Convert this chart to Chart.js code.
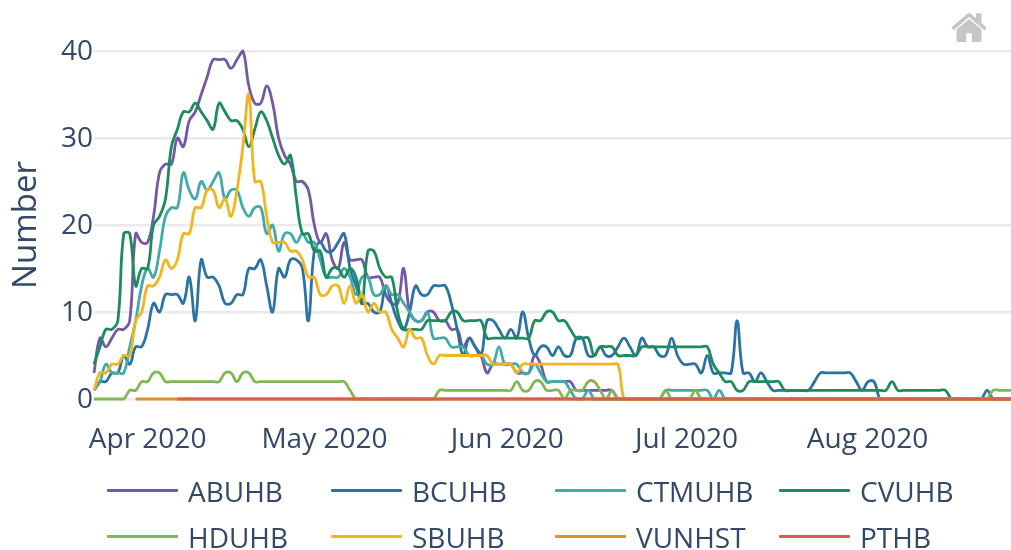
<!DOCTYPE html>
<html>
<head>
<meta charset="utf-8">
<script src="https://cdn.jsdelivr.net/npm/chart.js@4"></script>
<style>
html,body{margin:0;padding:0;background:#fff;width:1011px;height:550px;overflow:hidden}
#wrap{position:relative;width:1011px;height:550px;font-family:"Open Sans",sans-serif}
canvas{position:absolute;left:0;top:0}
.leg{position:absolute;height:34px;display:block;color:#34486a;font-size:28px;line-height:34px;white-space:nowrap}
.leg i{position:absolute;left:0;top:15px;width:71px;height:3px;border-radius:1px}
.leg span{position:absolute;left:81px;top:0}
#home{position:absolute;left:951px;top:12px;width:36px;height:30px}
</style>
</head>
<body>
<div id="wrap">
<canvas id="c" width="1011" height="550"></canvas>
<svg id="home" viewBox="0 115 928.6 745" preserveAspectRatio="none"><path fill="#c6c6c6" transform="matrix(1 0 0 -1 0 850)" d="m786 296v-267q0-15-11-26t-25-10h-214v214h-143v-214h-214q-15 0-25 10t-11 26v267q0 1 0 2t0 2l321 264 321-264q1-1 1-4z m124 39l-34-41q-5-5-12-6h-2q-7 0-12 3l-386 322-386-322q-7-4-13-4-7 2-12 7l-35 41q-4 5-3 13t6 12l401 334q18 15 42 15t43-15l136-114v109q0 8 5 13t13 5h107q8 0 13-5t5-13v-227l122-102q5-5 6-12t-4-13z"/></svg>
</div>
<script>
const seriesNames = ["ABUHB","BCUHB","CTMUHB","CVUHB","HDUHB","SBUHB","VUNHST","PTHB"];
const seriesColors = ["#7358a6","#2b73a3","#42aaa8","#1c8c5e","#7fb850","#f3b51f","#e28f2f","#d2624c"];
const firstDay = "2020-03-23";
const xTickLabels = ["Apr 2020","May 2020","Jun 2020","Jul 2020","Aug 2020"];
const xTickDays = [9.0,38.7,69.4,99.5,129.9];
const yTicks = [0,10,20,30,40];

const ABUHB = [3,7,6,7,8,8,9,19,18,18,21,26,27,27,30,29,32,33,35,37,39,39,39,38,39,40,36,34,34,36,34,30,28,27,25,25,24,20,18,19,16,15,18,16,16,16,14,14,14,12,11,11,15,10,9,9,10,10,9,9,8,8,6,7,6,5,3,4,4,4,4,3,3,3,5,4,2,2,2,2,2,1,1,1,1,1,1,1,0,0,0,0,0,0,0,0,0,0,0,0,0,0,0,0,0,0,0,0,0,0,0,0,0,0,0,0,0,0,0,0,0,0,0,0,0,0,0,0,0,0,0,0,0,0,0,0,0,0,0,0,0,0,0,0,0,0,0,0,0,0,0,0,0,0,0];
const BCUHB = [1,2,2,3,3,5,4,6,6,8,11,10,12,12,12,11,14,9,16,14,14,13,11,11,12,12,15,15,16,13,10,15,14,16,16,15,9,17,18,17,17,18,19,15,13,11,11,10,10,13,11,9,8,10,13,12,12,13,13,13,11,8,5,7,6,5,9,9,8,7,8,7,10,7,5,6,6,5,6,5,5,7,7,5,5,6,5,5,6,7,6,5,7,6,6,5,5,7,5,4,4,4,3,5,3,3,3,3,9,3,3,2,3,2,1,1,1,1,1,1,1,2,3,3,3,3,3,3,2,1,2,2,0,0,0,0,0,0,0,0,0,0,0,0,0,0,0,0,0,0,1,0,0,0,0];
const CTMUHB = [1,2,4,3,3,3,6,9,13,15,14,17,21,22,22,26,24,23,25,24,25,26,23,24,24,22,21,22,22,19,20,17,19,19,18,19,18,18,16,14,14,14,15,14,12,14,14,12,12,13,12,12,11,10,9,9,10,7,7,7,6,6,6,5,5,5,4,4,6,4,4,4,3,3,4,3,2,2,2,2,1,0,0,1,0,0,0,0,0,0,0,0,0,0,0,0,1,1,1,1,1,1,1,1,0,1,0,0,0,0,0,0,0,0,0,0,0,0,0,0,0,0,0,0,0,0,0,0,0,0,0,0,0,0,0,0,0,0,0,0,0,0,0,0,0,0,0,0,0,0,0,0,0,0,0];
const CVUHB = [4,6,8,8,9,19,19,13,15,15,20,21,23,29,31,33,33,34,33,32,31,34,33,32,32,31,29,31,33,32,30,28,27,28,23,19,19,17,17,14,15,15,14,15,14,11,17,17,15,14,14,10,8,8,8,8,9,9,9,9,10,10,9,9,9,9,7,7,7,7,7,7,7,7,9,9,10,10,9,9,8,7,7,7,5,6,6,6,5,5,5,5,6,6,6,6,6,6,6,6,6,6,6,6,4,3,2,2,1,1,2,2,2,2,2,2,1,1,1,1,1,1,1,1,1,1,1,1,1,1,1,1,1,1,2,1,1,1,1,1,1,1,1,1,0,0,0,0,0,0,0,0,0,0,0];
const HDUHB = [0,0,0,0,0,0,1,1,2,2,3,3,2,2,2,2,2,2,2,2,2,2,3,3,2,3,3,2,2,2,2,2,2,2,2,2,2,2,2,2,2,2,2,1,0,0,0,0,0,0,0,0,0,0,0,0,0,0,1,1,1,1,1,1,1,1,1,1,1,1,1,2,1,1,2,2,1,1,1,0,1,1,1,2,2,1,0,1,0,0,0,0,0,0,0,0,1,0,0,0,0,1,0,0,0,0,0,0,0,0,0,0,0,0,0,0,0,0,0,0,0,0,0,0,0,0,0,0,0,0,0,0,0,0,0,0,0,0,0,0,0,0,0,0,0,0,0,0,0,0,0,1,1,1,1];
const SBUHB = [1,3,3,4,4,5,5,9,10,13,13,14,16,15,16,19,19,22,22,24,24,22,23,21,24,29,35,25,25,21,18,18,18,17,17,16,14,14,12,12,13,13,11,13,11,12,10,11,10,10,8,7,6,8,7,7,5,4,5,5,5,5,5,5,5,5,5,4,4,4,4,3,4,4,4,4,4,4,4,4,4,4,4,4,4,4,4,4,4,0,0,0,0,0,0,0,0,0,0,0,0,0,0,0,0,0,0,0,0,0,0,0,0,0,0,0,0,0,0,0,0,0,0,0,0,0,0,0,0,0,0,0,0,0,0,0,0,0,0,0,0,0,0,0,0,0,0,0,0,0,0,0,0,0,0];
const VUNHST = [null,null,null,null,null,null,null,0,0,0,0,0,0,0,0,0,0,0,0,0,0,0,0,0,0,0,0,0,0,0,0,0,0,0,0,0,0,0,0,0,0,0,0,0,0,0,0,0,0,0,0,0,0,0,0,0,0,0,0,0,0,0,0,0,0,0,0,0,0,0,0,0,0,0,0,0,0,0,0,0,0,0,0,0,0,0,0,0,0,0,0,0,0,0,0,0,0,0,0,0,0,0,0,0,0,0,0,0,0,0,0,0,0,0,0,0,0,0,0,0,0,0,0,0,0,0,0,0,0,0,0,0,0,0,0,0,0,0,0,0,0,0,0,0,0,0,0,0,0,0,0,0,0,0,0];
const PTHB = [null,null,null,null,null,null,null,null,null,null,null,null,null,null,0,0,0,0,0,0,0,0,0,0,0,0,0,0,0,0,0,0,0,0,0,0,0,0,0,0,0,0,0,0,0,0,0,0,0,0,0,0,0,0,0,0,0,0,0,0,0,0,0,0,0,0,0,0,0,0,0,0,0,0,0,0,0,0,0,0,0,0,0,0,0,0,0,0,0,0,0,0,0,0,0,0,0,0,0,0,0,0,0,0,0,0,0,0,0,0,0,0,0,0,0,0,0,0,0,0,0,0,0,0,0,0,0,0,0,0,0,0,0,0,0,0,0,0,0,0,0,0,0,0,0,0,0,0,0,0,0,0,0,0,0];
const seriesValues = [ABUHB,BCUHB,CTMUHB,CVUHB,HDUHB,SBUHB,VUNHST,PTHB];

const textColor = "#34486a";
new Chart(document.getElementById("c"), {
  type: "line",
  data: {
    datasets: seriesNames.map((n, k) => ({
      label: n,
      data: seriesValues[k].map((y, i) => ({ x: i, y })),
      borderColor: seriesColors[k],
      backgroundColor: seriesColors[k],
      borderWidth: k >= 6 ? 3.2 : 2.8,
      pointRadius: 0,
      tension: 0.4,
      clip: false,
      spanGaps: false,
      order: seriesNames.length - k
    }))
  },
  options: {
    responsive: false,
    animation: false,
    layout: { autoPadding: false, padding: { top: 51, left: 0, right: 0, bottom: 0 } },
    plugins: { legend: { display: false }, tooltip: { enabled: false }, title: { display: false } },
    scales: {
      x: {
        type: "linear",
        min: 0, max: ABUHB.length - 1,
        grid: { display: false, drawTicks: false },
        border: { display: false },
        afterFit(s) { s.height = 151; },
        afterBuildTicks(s) { s.ticks = xTickDays.map(v => ({ value: v })); },
        ticks: {
          autoSkip: false, maxRotation: 0, minRotation: 0, padding: 24,
          color: textColor, font: { family: "Open Sans", size: 28 },
          callback(v, i) { return xTickLabels[i]; }
        }
      },
      y: {
        min: 0, max: 40,
        afterFit(s) { s.width = 94; },
        afterBuildTicks(s) { s.ticks = yTicks.map(v => ({ value: v })); },
        grid: { color: "#e9e9f0", lineWidth: 2.5, drawTicks: false },
        border: { display: false },
        title: { display: true, text: "Number", color: textColor, font: { family: "Open Sans", size: 33 }, padding: { top: 7, bottom: 0 } },
        ticks: { padding: 1, labelOffset: 1, color: textColor, font: { family: "Open Sans", size: 28 } }
      }
    }
  }
});

const wrap = document.getElementById("wrap");
const legendColumns = [107, 331, 555, 779];
const legendRows = [474, 520];
seriesNames.forEach((n, k) => {
  const el = document.createElement("div");
  el.className = "leg";
  el.style.left = legendColumns[k % 4] + "px";
  el.style.top = legendRows[Math.floor(k / 4)] + "px";
  el.innerHTML = '<i style="background:' + seriesColors[k] + '"></i><span>' + n + '</span>';
  wrap.appendChild(el);
});
</script>
</body>
</html>
